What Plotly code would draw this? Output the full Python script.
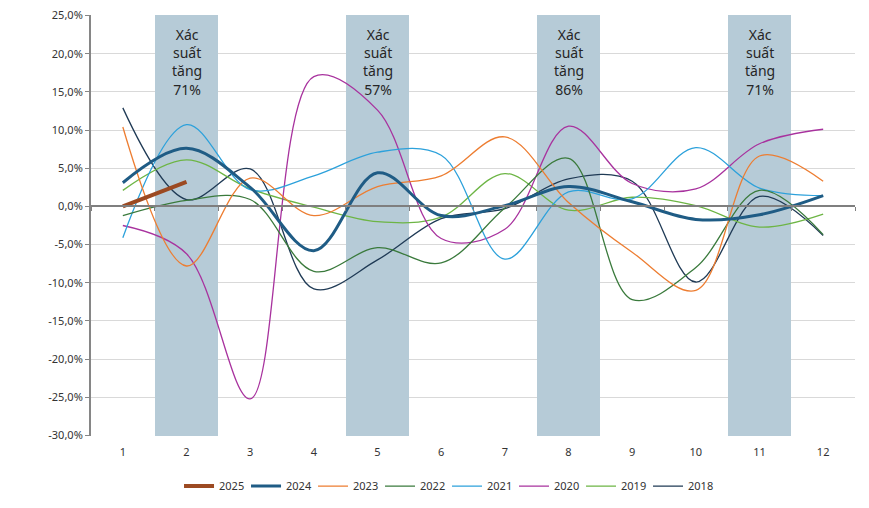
import plotly.graph_objects as go

months = [1, 2, 3, 4, 5, 6, 7, 8, 9, 10, 11, 12]
month_labels = ["1", "2", "3", "4", "5", "6", "7", "8", "9", "10", "11", "12"]

y2025 = [0.0, 3.2]
y2024 = [3.1, 7.6, 2.5, -5.8, 4.4, -1.2, 0.1, 2.6, 0.6, -1.7, -1.1, 1.4]
y2023 = [10.4, -7.8, 3.7, -1.2, 2.6, 4.0, 9.1, 0.5, -6.0, -11.0, 6.6, 3.3]
y2022 = [-1.2, 0.8, 0.9, -8.5, -5.4, -7.4, -0.2, 6.3, -12.2, -8.0, 2.1, -3.7]
y2021 = [-4.1, 10.7, 2.2, 4.0, 7.1, 6.7, -6.9, 1.9, 1.0, 7.7, 2.4, 1.4]
y2020 = [-2.5, -6.2, -25.2, 17.0, 12.6, -4.2, -3.0, 10.5, 3.0, 2.3, 8.2, 10.1]
y2019 = [2.1, 6.1, 2.3, -0.1, -2.0, -1.4, 4.3, -0.5, 1.2, 0.1, -2.7, -1.0]
y2018 = [12.9, 0.9, 4.9, -10.8, -7.0, -1.6, -0.3, 3.6, 3.3, -9.9, 1.3, -3.8]

series_names = ["2025", "2024", "2023", "2022", "2021", "2020", "2019", "2018"]
series_values = [y2025, y2024, y2023, y2022, y2021, y2020, y2019, y2018]
series_colors = ["#9C4A22", "#1F5C85", "#ED7D31", "#3A7A3C", "#2CA1DB",
                 "#A8329E", "#6DB545", "#1F3A55"]
series_widths = [4, 3, 1.3, 1.3, 1.3, 1.3, 1.3, 1.3]

band_months = [2, 5, 8, 11]
band_probs = ["71%", "57%", "86%", "71%"]

y_min, y_max = -30, 25
y_tickvals = [25, 20, 15, 10, 5, 0, -5, -10, -15, -20, -25, -30]
y_ticktext = ["25,0%", "20,0%", "15,0%", "10,0%", "5,0%", "0,0%", "-5,0%",
              "-10,0%", "-15,0%", "-20,0%", "-25,0%", "-30,0%"]

FONT = "Noto Sans"
pad = 0.06

fig = go.Figure()

# shaded bands
fig.add_trace(go.Bar(
    x=band_months, y=[y_max - y_min] * len(band_months), base=y_min,
    width=1.0, marker=dict(color="#B6CBD7", line=dict(width=0)),
    showlegend=False, hoverinfo="skip",
))

# lines, drawn oldest first so recent years are on top
for i in reversed(range(len(series_names))):
    vals = series_values[i]
    fig.add_trace(go.Scatter(
        x=months[:len(vals)], y=vals, mode="lines", name=series_names[i],
        line=dict(color=series_colors[i], width=series_widths[i],
                  shape="spline", smoothing=1.0),
        legendrank=i + 1,
    ))

# invisible trace for the zero-crossing axis
fig.add_trace(go.Scatter(x=[months[0]], y=[0], xaxis="x2", mode="markers",
                         marker=dict(opacity=0), showlegend=False,
                         hoverinfo="skip"))

for m, p in zip(band_months, band_probs):
    fig.add_annotation(
        x=m, y=y_max, xref="x", yref="y", yanchor="top", yshift=-8,
        text="Xác<br>suất<br>tăng<br>" + p, showarrow=False,
        font=dict(family=FONT, size=14, color="#262626"), align="center",
    )

fig.update_layout(
    width=861, height=500,
    margin=dict(l=83, r=14, t=7, b=72, autoexpand=False),
    paper_bgcolor="white", plot_bgcolor="white",
    font=dict(family=FONT, size=11, color="#333333"),
    barmode="overlay", bargap=0,
    showlegend=True,
    legend=dict(orientation="h", x=0.466, xanchor="center", y=-0.119,
                yanchor="middle", font=dict(size=11, color="#333333"),
                entrywidth=22, entrywidthmode="pixels", itemwidth=30,
                traceorder="normal"),
    xaxis=dict(range=[0.5, 12.5], tickvals=months, ticktext=month_labels,
               showgrid=False, zeroline=False, showline=False, ticks="",
               ticklabelstandoff=8, fixedrange=True),
    xaxis2=dict(range=[0.5, 12.5], overlaying="x", anchor="free",
                position=(0 - (y_min - pad)) / ((y_max + pad) - (y_min - pad)),
                showline=True, linecolor="#7F7F7F", linewidth=1.5,
                ticks="outside", ticklen=4, tickcolor="#7F7F7F",
                tickvals=[m + 0.5 for m in [0] + months],
                showticklabels=False, showgrid=False, zeroline=False),
    yaxis=dict(range=[y_min - pad, y_max + pad], tickvals=y_tickvals,
               ticktext=y_ticktext, ticklabeloverflow="allow",
               showgrid=True, gridcolor="#D9D9D9", gridwidth=1,
               zeroline=False, showline=True, linecolor="#868686",
               linewidth=2, ticks="outside", ticklen=4, tickcolor="#868686"),
)

fig.write_html("out.html")
